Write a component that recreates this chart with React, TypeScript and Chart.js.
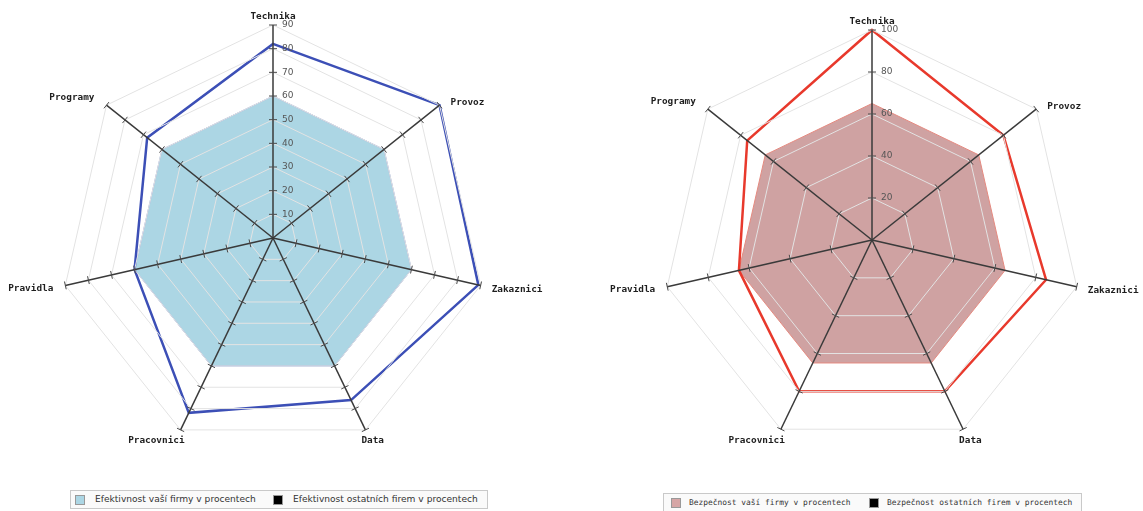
import React, { useEffect, useRef } from 'react';
import { Chart, registerables } from 'chart.js';

Chart.register(...registerables);

// ---------- data ----------
const categories = ['Technika', 'Provoz', 'Zakaznici', 'Data', 'Pracovnici', 'Pravidla', 'Programy'];

const effLabels = ['Efektivnost vaší firmy v procentech', 'Efektivnost ostatních firem v procentech'];
const effOurs = [60, 60, 60, 60, 60, 60, 60];
const effOthers = [82, 90, 89, 76, 82, 60, 68];
const effTicks = [10, 20, 30, 40, 50, 60, 70, 80, 90];

const secLabels = ['Bezpečnost vaší firmy v procentech', 'Bezpečnost ostatních firem v procentech'];
const secOurs = [65, 65, 65, 65, 65, 65, 65];
const secOthers = [100, 80, 85, 80, 80, 65, 76];
const secTicks = [20, 40, 60, 80, 100];

// geometry per chart (applied to the radial scale after layout)
const geom: Record<string, any> = {};

const radarDecor = {
  id: 'radarDecor',
  afterLayout(chart: any) {
    const g = geom[chart.canvas.id];
    if (!g) return;
    const s = chart.scales.r;
    s.xCenter = g.cx;
    s.yCenter = g.cy;
    s.drawingArea = g.r;
  },
  afterDraw(chart: any) {
    const g = geom[chart.canvas.id];
    if (!g) return;
    const s = chart.scales.r;
    const ctx = chart.ctx;
    const labels = chart.data.labels as string[];
    const n = labels.length;
    ctx.save();
    ctx.strokeStyle = '#4a4a4a';
    ctx.lineWidth = 1;
    const values: number[] = g.ticks;
    for (let i = 0; i < n; i++) {
      for (const v of values) {
        const p = s.getPointPosition(i, s.getDistanceFromCenterForValue(v));
        const px = -Math.sin(p.angle) * 4;
        const py = Math.cos(p.angle) * 4;
        ctx.beginPath();
        ctx.moveTo(p.x - px, p.y - py);
        ctx.lineTo(p.x + px, p.y + py);
        ctx.stroke();
      }
    }
    ctx.fillStyle = '#555';
    ctx.font = '9px "DejaVu Sans"';
    ctx.textAlign = 'left';
    ctx.textBaseline = 'middle';
    for (const v of values) {
      const d = s.getDistanceFromCenterForValue(v);
      ctx.fillText(String(v), s.xCenter + 9, s.yCenter - d);
    }
    ctx.fillStyle = '#1e1e1e';
    ctx.font = 'bold 9.4px "DejaVu Sans Mono"';
    for (let i = 0; i < n; i++) {
      const a = s.getIndexAngle(i);
      const sn = Math.sin(a);
      const cs = Math.cos(a);
      const end = s.getPointPosition(i, s.drawingArea);
      let x = end.x;
      let y = end.y;
      if (cs > 0.9) {
        ctx.textAlign = 'center';
        y = end.y - 8;
      } else if (cs < -0.5) {
        ctx.textAlign = sn > 0 ? 'left' : 'right';
        x = end.x + (sn > 0 ? -4 : 4);
        y = end.y + 11;
      } else if (sn > 0) {
        ctx.textAlign = 'left';
        x = end.x + 11;
        y = end.y - cs * 8 + 2;
      } else {
        ctx.textAlign = 'right';
        x = end.x - 12;
        y = end.y - cs * 12;
      }
      ctx.textBaseline = 'middle';
      ctx.fillText(labels[i], x, y);
    }
    ctx.restore();
  },
};

type RadarCfg = {
  id: string;
  left: number;
  width: number;
  height: number;
  cx: number;
  cy: number;
  r: number;
  max: number;
  step: number;
  ticks: number[];
  labels: string[];
  ours: number[];
  others: number[];
  fillColor: string;
  fillBorder: string;
  lineColor: string;
};

function RadarChart({ cfg }: { cfg: RadarCfg }) {
  const ref = useRef<HTMLCanvasElement | null>(null);
  useEffect(() => {
    geom[cfg.id] = { cx: cfg.cx, cy: cfg.cy, r: cfg.r, ticks: cfg.ticks };
    const chart = new Chart(ref.current as HTMLCanvasElement, {
      type: 'radar',
      data: {
        labels: categories,
        datasets: [
          {
            label: cfg.labels[0],
            data: cfg.ours,
            backgroundColor: cfg.fillColor,
            borderColor: cfg.fillBorder,
            borderWidth: 1,
            fill: true,
            pointRadius: 0,
            order: 2,
          },
          {
            label: cfg.labels[1],
            data: cfg.others,
            backgroundColor: 'rgba(0,0,0,0)',
            borderColor: cfg.lineColor,
            borderWidth: 2.5,
            fill: false,
            pointRadius: 0,
            order: 1,
          },
        ],
      },
      options: {
        responsive: false,
        maintainAspectRatio: false,
        animation: false,
        plugins: {
          legend: { display: false },
          tooltip: { enabled: false },
        },
        scales: {
          r: {
            min: 0,
            max: cfg.max,
            ticks: { display: false, stepSize: cfg.step, z: 1 } as any,
            pointLabels: { display: false },
            grid: { color: '#e3e3e3', lineWidth: 1, z: 1 } as any,
            angleLines: { color: '#3a3a3a', lineWidth: 1.5 },
          },
        },
      },
      plugins: [radarDecor],
    });
    return () => chart.destroy();
  }, []);
  return (
    <div style={{ position: 'absolute', left: cfg.left, top: 0, width: cfg.width, height: cfg.height }}>
      <canvas id={cfg.id} ref={ref} width={cfg.width} height={cfg.height} style={{ display: 'block' }} />
    </div>
  );
}

type LegendCfg = {
  left: number;
  top: number;
  width: number;
  labels: string[];
  colors: string[];
  textX: number[];
  boxX: number[];
  font: string;
  size: number;
};

function Legend({ cfg }: { cfg: LegendCfg }) {
  return (
    <div
      style={{
        position: 'absolute',
        left: cfg.left,
        top: cfg.top,
        width: cfg.width,
        height: 17,
        border: '1px solid #c9c9c9',
        background: '#fafafa',
        fontFamily: cfg.font,
        fontSize: cfg.size,
        color: '#333',
      }}
    >
      {cfg.labels.map((l, i) => (
        <React.Fragment key={i}>
          <div
            style={{
              position: 'absolute',
              left: cfg.boxX[i],
              top: 4,
              width: 8,
              height: 8,
              background: cfg.colors[i],
              border: '1px solid #999',
            }}
          />
          <span style={{ position: 'absolute', left: cfg.textX[i], top: 2, whiteSpace: 'nowrap', lineHeight: '13px' }}>
            {l}
          </span>
        </React.Fragment>
      ))}
    </div>
  );
}

const leftCfg: RadarCfg = {
  id: 'radarLeft',
  left: 0,
  width: 571,
  height: 480,
  cx: 273,
  cy: 238,
  r: 213,
  max: 90,
  step: 10,
  ticks: effTicks,
  labels: effLabels,
  ours: effOurs,
  others: effOthers,
  fillColor: '#acd6e4',
  fillBorder: '#8aa3da',
  lineColor: '#3c4fb6',
};

const rightCfg: RadarCfg = {
  id: 'radarRight',
  left: 571,
  width: 572,
  height: 480,
  cx: 301,
  cy: 240,
  r: 210,
  max: 100,
  step: 20,
  ticks: secTicks,
  labels: secLabels,
  ours: secOurs,
  others: secOthers,
  fillColor: '#cfa2a2',
  fillBorder: '#e58a80',
  lineColor: '#e8392c',
};

export default function App() {
  return (
    <div style={{ position: 'relative', width: 1143, height: 511, background: '#fff' }}>
      <style>{'html,body{margin:0;padding:0;}'}</style>
      <RadarChart cfg={leftCfg} />
      <RadarChart cfg={rightCfg} />
      <Legend
        cfg={{
          left: 70,
          top: 490,
          width: 416,
          labels: effLabels,
          colors: ['#acd6e4', '#000'],
          boxX: [4, 202],
          textX: [24, 222],
          font: '"DejaVu Sans"',
          size: 9.1,
        }}
      />
      <Legend
        cfg={{
          left: 663,
          top: 493,
          width: 417,
          labels: secLabels,
          colors: ['#d6a6a6', '#000'],
          boxX: [7, 205],
          textX: [25, 223],
          font: '"DejaVu Sans Mono"',
          size: 7.9,
        }}
      />
    </div>
  );
}
